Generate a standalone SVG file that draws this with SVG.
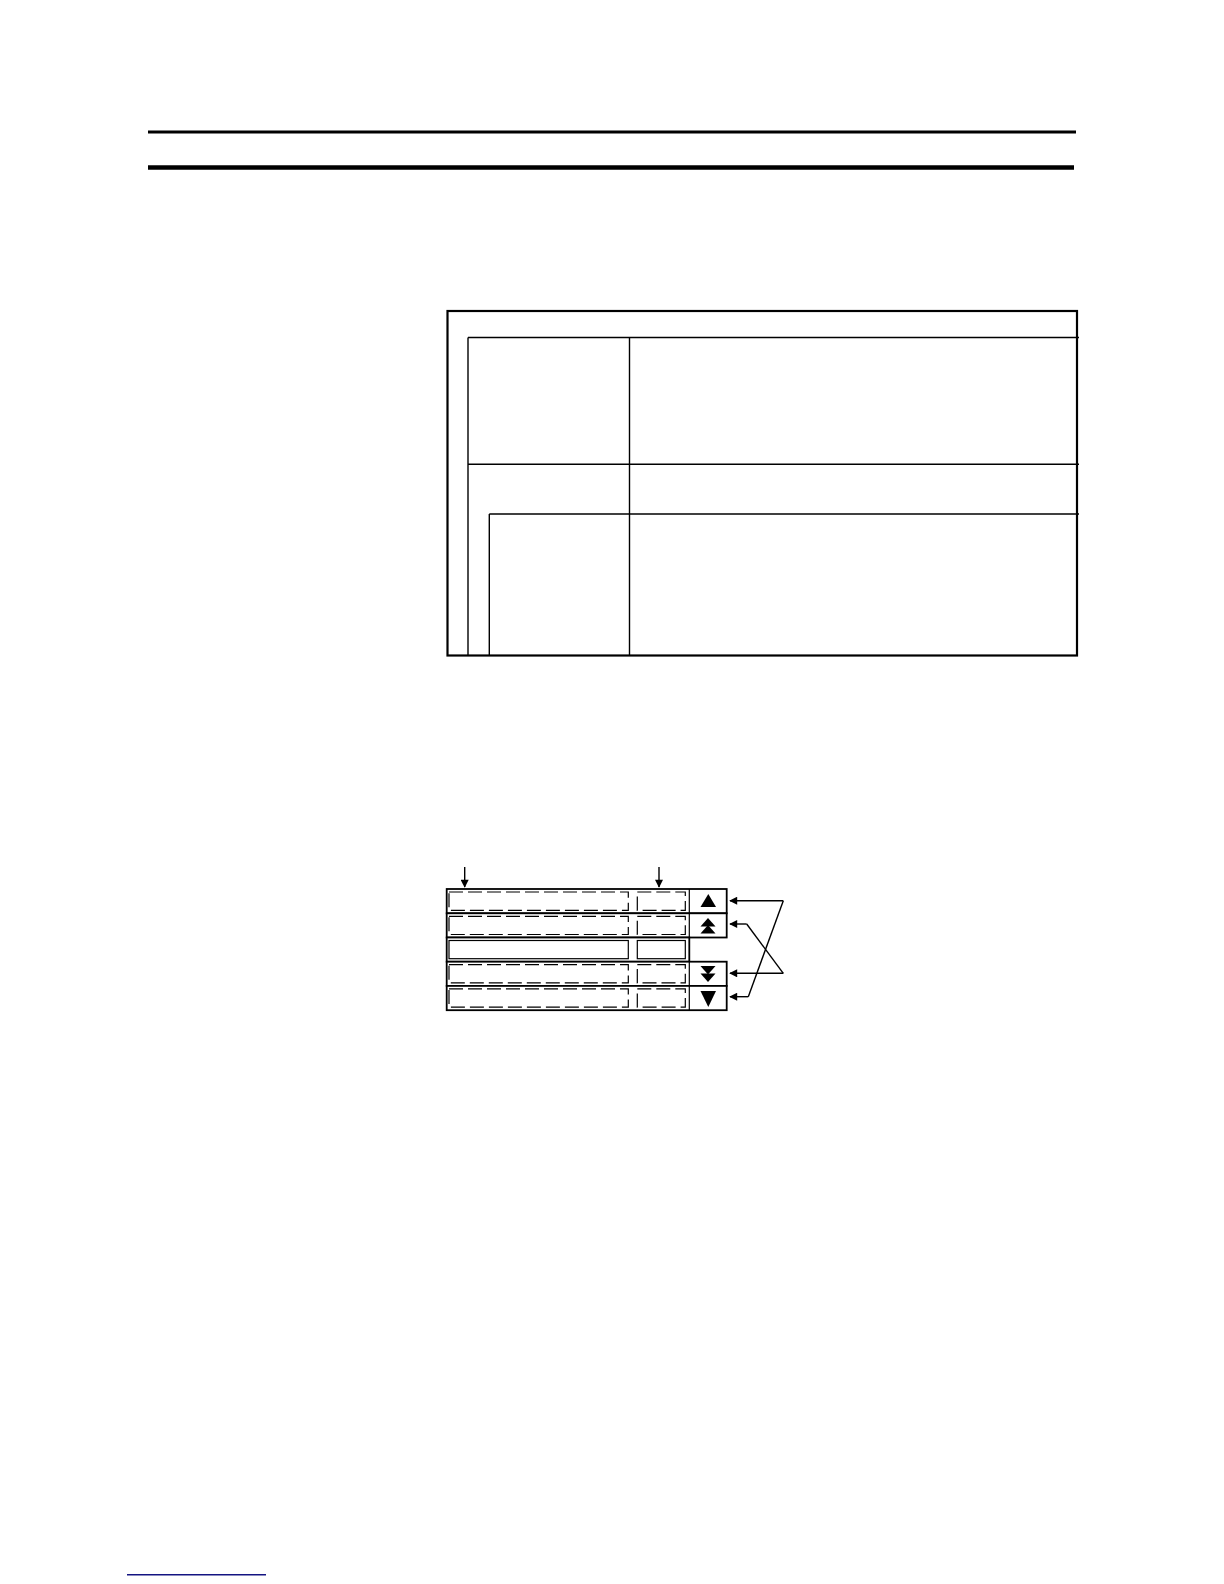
<svg xmlns="http://www.w3.org/2000/svg" width="1224" height="1584" viewBox="0 0 1224 1584">
<style>
.k{stroke:#000;fill:none}
.thin{stroke:#000;stroke-width:1.4;fill:none}
.row{stroke:#000;stroke-width:1.8;fill:#fff}
.dash{stroke:#000;stroke-width:1.2;fill:none;stroke-dasharray:14 5}
.sol{stroke:#000;stroke-width:1.2;fill:none}
.tri{fill:#000}
.ptr{stroke:#000;stroke-width:1.4;fill:none}
</style>
<defs>
<marker id="ah" viewBox="0 0 10 10" refX="9" refY="5" markerWidth="9" markerHeight="8" markerUnits="userSpaceOnUse" orient="auto">
<path d="M0,0 L10,5 L0,10 z" fill="#000"/>
</marker>
</defs>
<rect width="1224" height="1584" fill="#fff"/>
<g id="header-rules">
<line x1="148" y1="132" x2="1076" y2="132" stroke="#000" stroke-width="3"/>
<line x1="148" y1="167.5" x2="1074" y2="167.5" stroke="#000" stroke-width="4.5"/>
</g>
<g id="table">
<rect x="447.5" y="311" width="629.5" height="344.5" class="k" stroke-width="2.2"/>
<line x1="468" y1="337.5" x2="1079" y2="337.5" class="thin"/>
<line x1="468" y1="337.5" x2="468" y2="655" class="thin"/>
<line x1="629.5" y1="337.5" x2="629.5" y2="655" class="thin"/>
<line x1="468" y1="464.3" x2="1079" y2="464.3" class="thin"/>
<line x1="489.3" y1="514" x2="1079" y2="514" class="thin"/>
<line x1="489.3" y1="514" x2="489.3" y2="655" class="thin"/>
</g>
<g id="display">
<g id="row1">
<rect x="446.7" y="889" width="280" height="24.3" class="row"/>
<line x1="689.3" y1="889" x2="689.3" y2="913.3" class="sol" stroke-width="1.6"/>
<rect x="449" y="892" width="179.3" height="18.3" class="dash"/>
<rect x="637.3" y="892" width="48" height="18.3" class="dash"/>
<polygon points="708.3,894 700.5,907 716,907" class="tri"/>
</g>
<g id="row2">
<rect x="446.7" y="913.3" width="280" height="24.2" class="row"/>
<line x1="689.3" y1="913.3" x2="689.3" y2="937.5" class="sol" stroke-width="1.6"/>
<rect x="449" y="916.3" width="179.3" height="18.2" class="dash"/>
<rect x="637.3" y="916.3" width="48" height="18.2" class="dash"/>
<polygon points="708,918 700.5,926.5 715.5,926.5" class="tri"/>
<polygon points="708,925 700.5,933.5 715.5,933.5" class="tri"/>
</g>
<g id="row3">
<rect x="446.7" y="937.5" width="242.6" height="24.2" class="row"/>
<rect x="449" y="940.5" width="179.3" height="18.2" class="sol"/>
<rect x="637.3" y="940.5" width="48" height="18.2" class="sol"/>
</g>
<g id="row4">
<rect x="446.7" y="961.7" width="280" height="24.2" class="row"/>
<line x1="689.3" y1="961.7" x2="689.3" y2="985.9" class="sol" stroke-width="1.6"/>
<rect x="449" y="964.7" width="179.3" height="18.2" class="dash"/>
<rect x="637.3" y="964.7" width="48" height="18.2" class="dash"/>
<polygon points="700.5,966 715.5,966 708,974.5" class="tri"/>
<polygon points="700.5,973.5 715.5,973.5 708,982" class="tri"/>
</g>
<g id="row5">
<rect x="446.7" y="985.9" width="280" height="24.3" class="row"/>
<line x1="689.3" y1="985.9" x2="689.3" y2="1010.2" class="sol" stroke-width="1.6"/>
<rect x="449" y="988.9" width="179.3" height="18.3" class="dash"/>
<rect x="637.3" y="988.9" width="48" height="18.3" class="dash"/>
<polygon points="700.5,991 716,991 708.3,1007" class="tri"/>
</g>
</g>
<g id="connectors">
<line x1="464.7" y1="867" x2="464.7" y2="887" class="ptr" marker-end="url(#ah)"/>
<line x1="659" y1="867" x2="659" y2="887" class="ptr" marker-end="url(#ah)"/>
<polyline points="783.3,900.7 748.3,996.7" class="ptr"/>
<line x1="783.3" y1="900.7" x2="730" y2="900.7" class="ptr" stroke-width="2" marker-end="url(#ah)"/>
<line x1="748.3" y1="996.7" x2="730" y2="996.7" class="ptr" stroke-width="2" marker-end="url(#ah)"/>
<polyline points="746.7,924 783.3,973.3" class="ptr"/>
<line x1="746.7" y1="924" x2="730" y2="924" class="ptr" stroke-width="2" marker-end="url(#ah)"/>
<line x1="783.3" y1="973.3" x2="730" y2="973.3" class="ptr" stroke-width="2" marker-end="url(#ah)"/>
</g>
<g id="footer-rule">
<line x1="127" y1="1574.8" x2="266" y2="1574.8" stroke="#141482" stroke-width="1.4"/>
</g>
</svg>
